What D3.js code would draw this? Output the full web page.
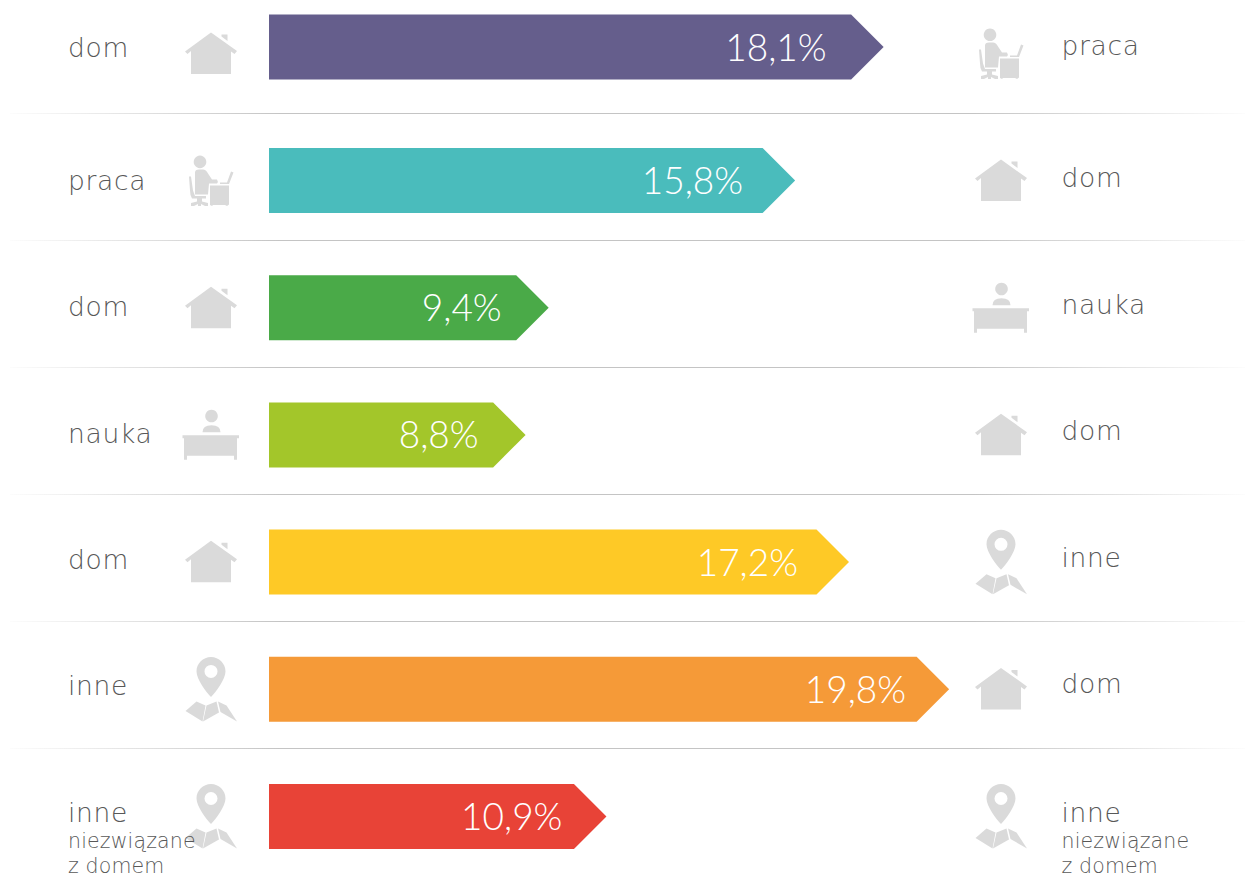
<!DOCTYPE html>
<html><head><meta charset="utf-8">
<script src="https://cdn.jsdelivr.net/npm/d3@7/dist/d3.min.js"></script>
<style>html,body{margin:0;padding:0;background:#fff}svg{display:block}
text{font-family:"Lato","Open Sans",sans-serif}
text.lab{font-family:"DejaVu Sans","Open Sans",sans-serif}</style></head>
<body><svg id="c" width="1247" height="878"></svg>
<script>
const fromLabels=["dom","praca","dom","nauka","dom","inne","inne"];
const toLabels=["praca","dom","nauka","dom","inne","dom","inne"];
const subLabels=["","","","","","","niezwiązane|z domem"];
const values=[18.1,15.8,9.4,8.8,17.2,19.8,10.9];
const colors=["#655e8c","#4abcbc","#4aaa48","#a3c62a","#fec926","#f59a38","#e84337"];
const valueInset=[57,52,47,47,51,43,44];

const ICON="#dadada";
const icons={
 dom:[`M0,-21 L26,-2.5 L23.5,0.5 L20,-2 L20,20.5 L-20,20.5 L-20,-2.5 L-23.5,0.5 L-26,-2 Z`,`M10.5,-19 L16.5,-19 L16.5,-12.5 L10.5,-17 Z`],
 praca:[`M-11,-25 a6.3,6.3 0 1,0 0.01,0 Z`,
  `M-16,-8 Q-16,-11 -12,-11 L-8,-11 Q-5,-11 -3,-7 L1,-1 L6,-1 Q7.5,1 6,3 L-2,3 L-3,14 L-16,14 Z`,
  `M-22,-4 L-20,-4 L-18,10 L-16,15.5 L-5,15.5 L-5,18 L-9,18 L-9,21 L-3,22.5 L-3,25.5 L-6,25.5 L-10,23.5 L-10,25.5 L-13,25.5 L-13,23.5 L-17,25.5 L-20,25.5 L-20,22.5 L-14,21 L-14,18 L-19,18 Q-21,15 -21,10 Z`,
  `M-1,5 L18,5 L18,24 L16,25.5 L14,24.5 L2,24.5 L1,25.5 L-1,24.5 Z`,
  `M20,-9 L22.5,-8 L18,3.5 L9,3.5 L9,2 L16,2 Z`],
 nauka:[`M0.5,-25 a6.3,6.3 0 1,0 0.01,0 Z`,`M-8.5,-2.5 Q-8.5,-9.5 0.5,-9.5 Q9.5,-9.5 9.5,-2.5 Z`,
  `M-28.5,0.5 L28,0.5 L28,3.5 L26,3.5 L26,25 L23,25 L23,21 L-24,21 L-24,25 L-27,25 L-27,3.5 L-28.5,3.5 Z`],
 inne:[`M0,-32 C8,-32 14.5,-25.5 14.5,-17.5 C14.5,-10 5,3 0,8 C-5,3 -14.5,-10 -14.5,-17.5 C-14.5,-25.5 -8,-32 0,-32 Z M0,-24 A6.5,6.5 0 1,0 0.01,-11 A6.5,6.5 0 1,0 0,-24 Z`,
  `M-25.5,22 L-14.5,12.5 L-5.5,16.5 L-8.5,32.5 Z`,`M-4.5,16.5 L5.5,12.5 L8,23.5 L-8,32.5 Z`,`M7,12.5 L15.5,16.5 L26,32.5 L9.5,23 Z`]
};

const svg=d3.select("#c");
const defs=svg.append("defs");
const g=defs.append("linearGradient").attr("id","rule");
[[0,0.05],[.22,1],[.78,1],[1,0.05]].forEach(s=>g.append("stop").attr("offset",s[0]).attr("stop-color","#c4c4c4").attr("stop-opacity",s[1]));

const rows=d3.range(values.length);
const x=d3.scaleLinear().domain([0,20]).range([186.8,956.8]);
const barLeft=269,barH=65,tip=32.5;
const barTop=d3.scaleLinear().domain([0,1,6]).range([14.6,148,784]);
const ruleY=d3.scaleLinear().domain([0,5]).range([113,748]);
const iconY=d3.scaleLinear().domain([0,6]).range([53.5,816]);
const leftBase=d3.scaleLinear().domain([0,1,5,6]).range([57,190,695,822]);
const rightBase=d3.scaleLinear().domain([0,1,5,6]).range([55,187,693,822]);

svg.append("g").selectAll("rect").data(d3.range(6)).join("rect")
 .attr("x",10).attr("width",1235).attr("y",d=>ruleY(d)).attr("height",1).attr("fill","url(#rule)");

svg.append("g").selectAll("path").data(rows).join("path")
 .attr("fill",i=>colors[i])
 .attr("d",i=>{const t=barTop(i),e=x(values[i]);
   return d3.line()([[barLeft,t],[e-tip,t],[e,t+barH/2],[e-tip,t+barH],[barLeft,t+barH]])+"Z";});

function drawIcon(sel,name,cx,cy){
  const n=sel.append("g").attr("transform",`translate(${cx},${cy})`);
  n.selectAll("path").data(icons[name]).join("path").attr("d",d=>d).attr("fill",ICON).attr("fill-rule","evenodd");
}
const gi=svg.append("g");
rows.forEach(i=>{drawIcon(gi,fromLabels[i],211,iconY(i));drawIcon(gi,toLabels[i],1001,iconY(i));});

function put(xp,baseFn,arr){
 const gt=svg.append("g");
 rows.forEach(i=>{
  gt.append("text").attr("class","lab").attr("x",xp).attr("y",baseFn(i)).attr("fill","#585858").attr("font-size",26.5).attr("font-weight",200).attr("letter-spacing",.7).text(arr[i]);
  if(subLabels[i]) subLabels[i].split("|").forEach((s,k)=>gt.append("text").attr("class","lab").attr("x",xp).attr("y",baseFn(i)+25.5*(k+1)).attr("fill","#585858").attr("font-size",20.5).attr("font-weight",200).attr("letter-spacing",.15).text(s));
 });
}
put(68,leftBase,fromLabels);put(1061.5,rightBase,toLabels);

svg.append("g").selectAll("text").data(rows).join("text")
 .attr("x",i=>x(values[i])-valueInset[i]).attr("y",i=>barTop(i)+46).attr("text-anchor","end")
 .attr("fill","#fff").attr("font-size",37).attr("font-weight",300)
 .text(i=>values[i].toFixed(1).replace(".",",")+"%");
</script></body></html>
